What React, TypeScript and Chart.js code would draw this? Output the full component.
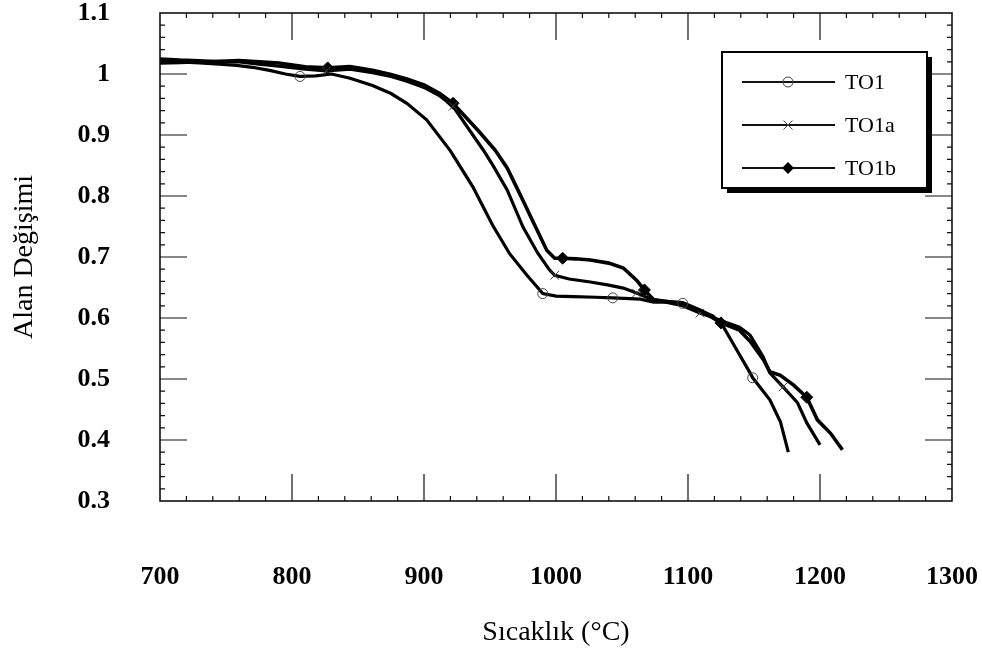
import React, { useEffect, useRef } from 'react';
import { Chart, registerables } from 'chart.js';

Chart.register(...registerables);

const xTickValues = [700, 800, 900, 1000, 1100, 1200, 1300];
const yTickValues = [0.3, 0.4, 0.5, 0.6, 0.7, 0.8, 0.9, 1.0, 1.1];

const seriesNames = ['TO1', 'TO1a', 'TO1b'];

const to1T = [700, 715, 730, 745, 758, 770, 783, 795, 806, 818, 830, 844, 861, 875, 887, 902, 920, 937, 952, 965, 978, 990, 1000, 1013, 1030, 1043, 1064, 1074, 1085, 1096, 1110, 1119, 1127, 1135, 1147, 1149, 1162, 1170, 1176];
const to1V = [1.021, 1.02, 1.018, 1.016, 1.014, 1.011, 1.006, 1.0, 0.996, 0.997, 1.0, 0.993, 0.981, 0.968, 0.952, 0.925, 0.874, 0.815, 0.752, 0.705, 0.67, 0.64, 0.636, 0.635, 0.634, 0.633, 0.631, 0.626, 0.626, 0.624, 0.612, 0.603, 0.585, 0.555, 0.51, 0.502, 0.466, 0.43, 0.38];
const to1Marks = [806, 990, 1043, 1096, 1149];

const to1aT = [700, 715, 730, 745, 760, 775, 790, 810, 826, 844, 861, 875, 887, 900, 912, 922, 937, 945, 952, 963, 975, 986, 995, 999, 1010, 1026, 1040, 1051, 1061, 1071, 1085, 1096, 1109, 1120, 1130, 1139, 1147, 1157, 1162, 1172, 1183, 1190, 1200];
const to1aV = [1.025, 1.023, 1.022, 1.02, 1.02, 1.016, 1.013, 1.008, 1.005, 1.008, 1.002, 0.996, 0.988, 0.978, 0.964, 0.947, 0.9, 0.875, 0.851, 0.81, 0.749, 0.707, 0.679, 0.67, 0.664, 0.659, 0.654, 0.649, 0.641, 0.632, 0.625, 0.62, 0.608, 0.6, 0.592, 0.585, 0.572, 0.536, 0.51, 0.487, 0.461, 0.428, 0.392];
const to1aMarks = [826, 922, 999, 1061, 1109, 1172];

const to1bT = [700, 715, 730, 745, 760, 775, 790, 810, 827, 844, 861, 875, 887, 900, 912, 922, 942, 954, 963, 970, 974, 983, 993, 999, 1005, 1015, 1026, 1040, 1051, 1061, 1067, 1074, 1085, 1096, 1109, 1125, 1139, 1147, 1157, 1162, 1170, 1180, 1190, 1198, 1208, 1217];
const to1bV = [1.018, 1.019, 1.02, 1.021, 1.022, 1.02, 1.018, 1.012, 1.01, 1.012, 1.006, 0.999, 0.992, 0.982, 0.968, 0.952, 0.905, 0.875, 0.846, 0.815, 0.797, 0.756, 0.711, 0.698, 0.698, 0.697, 0.695, 0.69, 0.682, 0.662, 0.646, 0.63, 0.627, 0.625, 0.613, 0.592, 0.58, 0.562, 0.532, 0.512, 0.506, 0.49, 0.47, 0.433, 0.411, 0.384];
const to1bMarks = [827, 922, 1005, 1067, 1125, 1190];

const FONT = '"Liberation Serif", "Times New Roman", serif';

function toPoints(t: number[], v: number[]) {
  return t.map((x, i) => ({ x, y: v[i] }));
}

function markerRadius(marks: number[], r: number) {
  return (ctx: any) => {
    const raw = ctx.raw as { x: number } | undefined;
    return raw && marks.includes(raw.x) ? r : 0;
  };
}

function zeroPadding(scale: any) {
  scale.paddingLeft = 0;
  scale.paddingRight = 0;
  scale.paddingTop = 0;
  scale.paddingBottom = 0;
}

const frameAndTicks = {
  id: 'frameAndTicks',
  afterDatasetsDraw(chart: any) {
    const { ctx, chartArea } = chart;
    const { left, right, top, bottom } = chartArea;
    const xs = chart.scales.x;
    const ys = chart.scales.y;
    ctx.save();
    ctx.strokeStyle = '#111';
    ctx.lineWidth = 1.6;
    ctx.strokeRect(left, top, right - left, bottom - top);
    ctx.lineWidth = 1.2;
    const major = 27;
    const minor = 5;
    ctx.beginPath();
    for (let v = 720; v < 1300; v += 20) {
      const px = xs.getPixelForValue(v);
      const len = v % 100 === 0 ? major : minor;
      ctx.moveTo(px, bottom);
      ctx.lineTo(px, bottom - len);
      ctx.moveTo(px, top);
      ctx.lineTo(px, top + len);
    }
    for (let k = 16; k < 55; k += 1) {
      const v = k / 50;
      const py = ys.getPixelForValue(v);
      const len = k % 5 === 0 ? major : minor;
      ctx.moveTo(left, py);
      ctx.lineTo(left + len, py);
      ctx.moveTo(right, py);
      ctx.lineTo(right - len, py);
    }
    ctx.stroke();
    ctx.restore();
  },
};

function drawMarker(ctx: CanvasRenderingContext2D, style: string, x: number, y: number) {
  ctx.save();
  if (style === 'circle') {
    ctx.strokeStyle = '#444';
    ctx.lineWidth = 1;
    ctx.beginPath();
    ctx.arc(x, y, 5, 0, Math.PI * 2);
    ctx.stroke();
  } else if (style === 'crossRot') {
    ctx.strokeStyle = '#444';
    ctx.lineWidth = 1;
    ctx.beginPath();
    ctx.moveTo(x - 4.5, y - 4.5);
    ctx.lineTo(x + 4.5, y + 4.5);
    ctx.moveTo(x - 4.5, y + 4.5);
    ctx.lineTo(x + 4.5, y - 4.5);
    ctx.stroke();
  } else {
    ctx.fillStyle = '#000';
    ctx.beginPath();
    ctx.moveTo(x, y - 6);
    ctx.lineTo(x + 6, y);
    ctx.lineTo(x, y + 6);
    ctx.lineTo(x - 6, y);
    ctx.closePath();
    ctx.fill();
  }
  ctx.restore();
}

const boxLegend = {
  id: 'boxLegend',
  afterDraw(chart: any) {
    const { ctx } = chart;
    const bx = 722, by = 52, bw = 205, bh = 136, sh = 5;
    ctx.save();
    ctx.fillStyle = '#000';
    ctx.fillRect(bx + sh, by + sh, bw, bh);
    ctx.fillStyle = '#fff';
    ctx.fillRect(bx, by, bw, bh);
    ctx.strokeStyle = '#000';
    ctx.lineWidth = 2;
    ctx.strokeRect(bx, by, bw, bh);
    chart.data.datasets.forEach((ds: any, i: number) => {
      const y = 82 + i * 43;
      ctx.strokeStyle = '#111';
      ctx.lineWidth = 2;
      ctx.beginPath();
      ctx.moveTo(742, y);
      ctx.lineTo(835, y);
      ctx.stroke();
      drawMarker(ctx, ds.pointStyle, 788, y);
      ctx.fillStyle = '#000';
      ctx.font = `22px ${FONT}`;
      ctx.textAlign = 'left';
      ctx.textBaseline = 'middle';
      ctx.fillText(ds.label, 845, y + 1);
    });
    ctx.restore();
  },
};

export default function App() {
  const ref = useRef<HTMLCanvasElement | null>(null);

  useEffect(() => {
    const canvas = ref.current;
    if (!canvas) return;
    const chart = new Chart(canvas, {
      type: 'line',
      data: {
        datasets: [
          {
            label: seriesNames[0],
            data: toPoints(to1T, to1V),
            borderColor: '#000',
            borderWidth: 3.2,
            pointStyle: 'circle',
            pointRadius: markerRadius(to1Marks, 5),
            pointBorderColor: '#444',
            pointBackgroundColor: 'rgba(0,0,0,0)',
            pointBorderWidth: 1,
            tension: 0,
          },
          {
            label: seriesNames[1],
            data: toPoints(to1aT, to1aV),
            borderColor: '#000',
            borderWidth: 3.2,
            pointStyle: 'crossRot',
            pointRadius: markerRadius(to1aMarks, 6),
            pointBorderColor: '#444',
            pointBackgroundColor: '#444',
            pointBorderWidth: 1,
            tension: 0,
          },
          {
            label: seriesNames[2],
            data: toPoints(to1bT, to1bV),
            borderColor: '#000',
            borderWidth: 3.6,
            pointStyle: 'rectRot',
            pointRadius: markerRadius(to1bMarks, 6),
            pointBorderColor: '#000',
            pointBackgroundColor: '#000',
            pointBorderWidth: 1,
            tension: 0,
          },
        ],
      },
      options: {
        responsive: false,
        animation: false,
        devicePixelRatio: 1,
        layout: { padding: { top: 13, right: 30, left: 0, bottom: 0 } },
        plugins: {
          legend: { display: false },
          tooltip: { enabled: false },
        },
        scales: {
          x: {
            type: 'linear',
            min: 700,
            max: 1300,
            afterBuildTicks: (scale: any) => {
              scale.ticks = xTickValues.map((value) => ({ value }));
            },
            afterFit: (scale: any) => {
              scale.height = 152;
              zeroPadding(scale);
            },
            grid: { display: false, drawTicks: false },
            border: { display: false },
            ticks: {
              padding: 61,
              color: '#000',
              maxRotation: 0,
              font: { family: FONT, size: 26, weight: 'bold' },
              callback: (v: any) => String(v),
            },
            title: {
              display: true,
              text: 'Sıcaklık (°C)',
              color: '#000',
              font: { family: FONT, size: 28 },
              padding: { top: 0, bottom: 4 },
            },
          },
          y: {
            type: 'linear',
            min: 0.3,
            max: 1.1,
            afterBuildTicks: (scale: any) => {
              scale.ticks = yTickValues.map((value) => ({ value }));
            },
            afterFit: (scale: any) => {
              scale.width = 160;
              zeroPadding(scale);
            },
            grid: { display: false, drawTicks: false },
            border: { display: false },
            ticks: {
              padding: 50,
              color: '#000',
              font: { family: FONT, size: 26, weight: 'bold' },
              callback: (v: any) => String(Math.round(Number(v) * 10) / 10),
            },
            title: {
              display: true,
              text: 'Alan Değişimi',
              color: '#000',
              font: { family: FONT, size: 28 },
              padding: { top: 8, bottom: 0 },
            },
          },
        },
      },
      plugins: [frameAndTicks, boxLegend],
    } as any);
    return () => chart.destroy();
  }, []);

  return (
    <div style={{ position: 'fixed', left: 0, top: 0, width: 982, height: 653, background: '#fff' }}>
      <canvas ref={ref} width={982} height={653} style={{ display: 'block', width: 982, height: 653 }} />
    </div>
  );
}
